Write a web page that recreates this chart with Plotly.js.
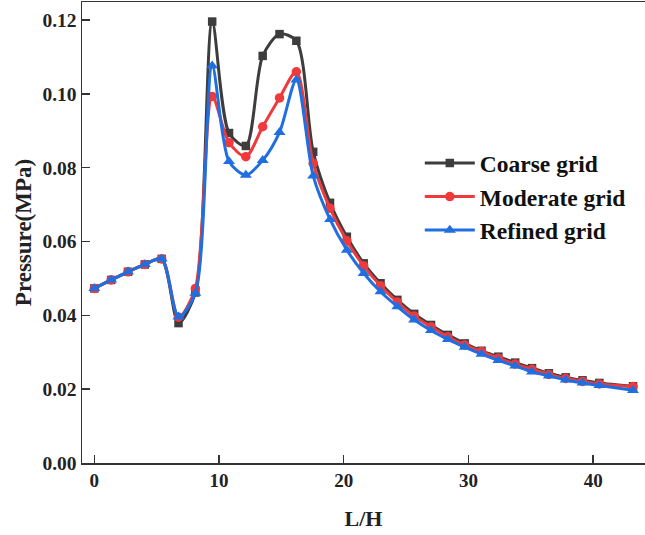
<!DOCTYPE html>
<html>
<head>
<meta charset="utf-8">
<script src="https://cdn.plot.ly/plotly-3.0.1.min.js"></script>
<style>html,body{margin:0;padding:0;background:#fff;}#chart{width:645px;height:535px;}</style>
</head>
<body>
<div id="chart"></div>
<script>
// L/H positions
const lh = [0, 1.35, 2.7, 4.05, 5.4, 6.75, 8.1, 9.45, 10.8, 12.15, 13.5, 14.85, 16.2, 17.55, 18.9, 20.25,
  21.6, 22.95, 24.3, 25.65, 27, 28.35, 29.7, 31.05, 32.4, 33.75, 35.1, 36.45, 37.8, 39.15, 40.5, 43.2];

const coarse = [0.0473, 0.0496, 0.0518, 0.0538, 0.0553, 0.0379, 0.0462, 0.1196, 0.0894, 0.0859, 0.1103, 0.1162, 0.1144, 0.0843,
  0.0705, 0.0613, 0.0541, 0.0487, 0.0442, 0.0404, 0.0374, 0.0347, 0.0324, 0.0304, 0.0288, 0.0272, 0.0257, 0.0243, 0.0232, 0.0224, 0.0217, 0.0208];

const moderate = [0.0473, 0.0496, 0.0518, 0.0538, 0.0553, 0.0395, 0.0473, 0.0993, 0.0868, 0.0830, 0.0911, 0.0989, 0.1060, 0.0812,
  0.0690, 0.0602, 0.0534, 0.0480, 0.0436, 0.0398, 0.0369, 0.0342, 0.0320, 0.0302, 0.0284, 0.0268, 0.0254, 0.0240, 0.0229, 0.0221, 0.0214, 0.0207];

const refined = [0.0473, 0.0496, 0.0518, 0.0538, 0.0553, 0.0396, 0.0460, 0.1076, 0.0817, 0.0780, 0.0820, 0.0896, 0.1038, 0.0778,
  0.0660, 0.0577, 0.0514, 0.0464, 0.0424, 0.0388, 0.0359, 0.0335, 0.0314, 0.0295, 0.0278, 0.0263, 0.0247, 0.0236, 0.0225, 0.0217, 0.0210, 0.0197];

const seriesNames = ['Coarse grid', 'Moderate grid', 'Refined grid'];
const xTicks = [0, 10, 20, 30, 40];
const yTicks = [0, 0.02, 0.04, 0.06, 0.08, 0.10, 0.12];

const serif = 'Liberation Serif, Times New Roman, serif';

function tr(y, name, color, symbol, size) {
  return {
    x: lh, y: y, name: name, type: 'scatter', mode: 'lines+markers',
    line: {color: color, width: 3, shape: 'spline', smoothing: 0.8},
    marker: {color: color, symbol: symbol, size: size}
  };
}

const data = [
  tr(coarse, seriesNames[0], '#3d3d3d', 'square', 8.5),
  tr(moderate, seriesNames[1], '#f0393b', 'circle', 9.5),
  tr(refined, seriesNames[2], '#1f6fe0', 'triangle-up', 10.5)
];

const layout = {
  width: 645, height: 535,
  margin: {l: 82, r: 0, t: 2, b: 72},
  paper_bgcolor: '#fff', plot_bgcolor: '#fff',
  showlegend: true,
  legend: {
    x: 0.6, y: 0.698, xanchor: 'left', yanchor: 'top',
    font: {family: serif, size: 23.5, color: '#111', weight: 'bold'},
    bgcolor: 'rgba(0,0,0,0)', borderwidth: 0, tracegroupgap: 0, itemwidth: 50
  },
  xaxis: {
    range: [-0.99, 44.16],
    tickvals: xTicks, ticktext: xTicks.map(String),
    ticks: 'inside', ticklen: 8, tickwidth: 1.5, tickcolor: '#333',
    showline: true, linecolor: '#333', linewidth: 1.5, mirror: true,
    showgrid: false, zeroline: false,
    tickfont: {family: serif, size: 19, color: '#222', weight: 'bold'},
    title: {text: 'L/H', font: {family: serif, size: 22, color: '#222', weight: 'bold'}, standoff: 20}
  },
  yaxis: {
    range: [0, 0.1249],
    tickvals: yTicks, ticktext: yTicks.map(v => v.toFixed(2)),
    ticks: 'inside', ticklen: 8, tickwidth: 1.5, tickcolor: '#333',
    showline: true, linecolor: '#333', linewidth: 1.5,
    showgrid: false, zeroline: false,
    tickfont: {family: serif, size: 19.5, color: '#222', weight: 'bold'},
    title: {text: 'Pressure(MPa)', font: {family: serif, size: 23, color: '#222', weight: 'bold'}, standoff: 4}
  }
};

Plotly.newPlot('chart', data, layout, {displayModeBar: false, staticPlot: true});
</script>
</body>
</html>
